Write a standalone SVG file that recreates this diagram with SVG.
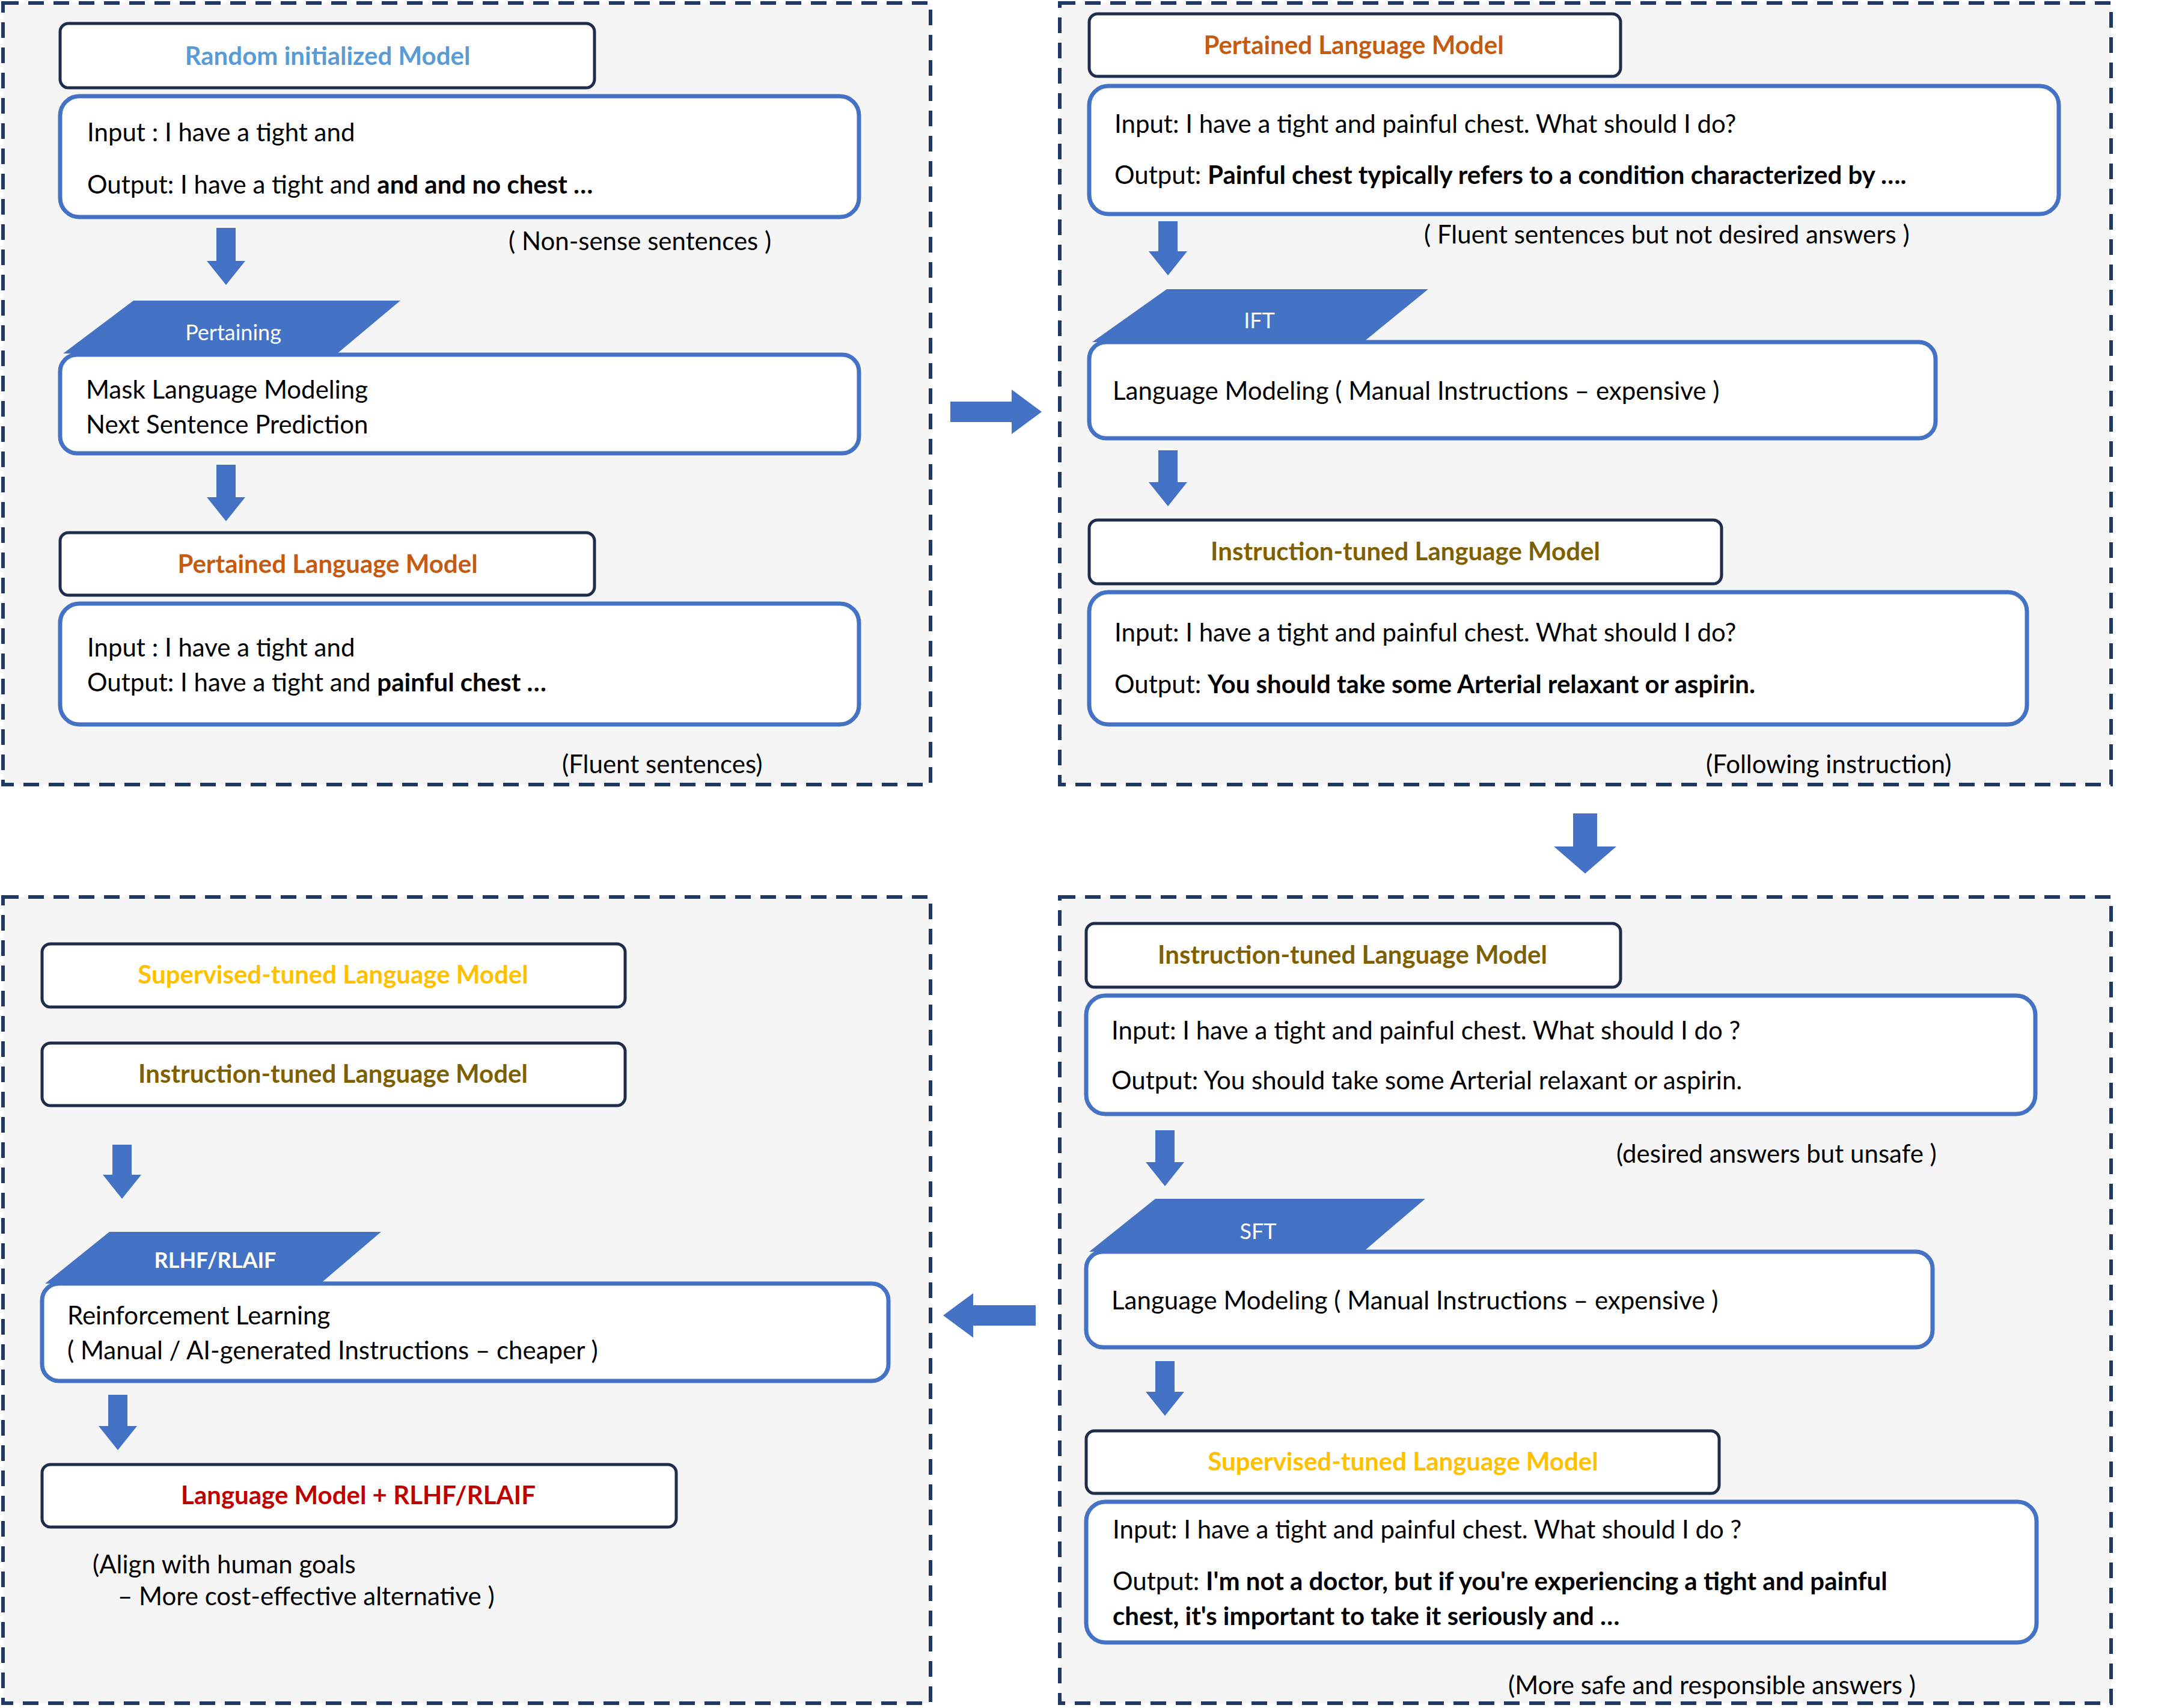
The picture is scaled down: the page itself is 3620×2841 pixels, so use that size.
<svg xmlns="http://www.w3.org/2000/svg" width="3620" height="2841" viewBox="0 0 3620 2841">
<style>
.panel{fill:#f5f5f5;stroke:#203864;stroke-width:6;stroke-dasharray:26 16}
.title{fill:#fff;stroke:#1f2d4d;stroke-width:5}
.io{fill:#fff;stroke:#4472c4;stroke-width:7}
.band{fill:#4472c4}
.arr{fill:#4472c4}
text{font-family:Lato,"Liberation Sans",sans-serif;font-size:42px;fill:#000}
.t{font-weight:bold;text-anchor:middle}
.b{font-weight:bold}
.w{fill:#fff;font-size:36px;text-anchor:middle}
</style>
<rect width="3620" height="2841" fill="#fff"/>
<g id="panels">
<rect class="panel" x="5" y="5" width="1543" height="1300"/>
<rect class="panel" x="1763" y="5" width="1749" height="1300"/>
<rect class="panel" x="5" y="1492" width="1543" height="1341"/>
<rect class="panel" x="1763" y="1492" width="1749" height="1341"/>
</g>
<g id="connectors">
<path class="arr" d="M360 379H392V434H408L376 474L344 434H360Z"/>
<path class="arr" d="M360 773H392V827H408L376 867L344 827H360Z"/>
<path class="arr" d="M1581 668H1683V648L1733 685L1683 722V702H1581Z"/>
<path class="arr" d="M1927 368H1959V418H1975L1943 458L1911 418H1927Z"/>
<path class="arr" d="M1927 749H1959V802H1975L1943 842L1911 802H1927Z"/>
<path class="arr" d="M2617 1353H2657V1408H2689L2637 1453L2585 1408H2617Z"/>
<path class="arr" d="M1922 1880H1954V1933H1970L1938 1973L1906 1933H1922Z"/>
<path class="arr" d="M1922 2264H1954V2315H1970L1938 2355L1906 2315H1922Z"/>
<path class="arr" d="M1723 2171H1619V2151L1569 2188L1619 2225V2205H1723Z"/>
<path class="arr" d="M187 1904H219V1954H235L203 1994L171 1954H187Z"/>
<path class="arr" d="M180 2320H212V2372H228L196 2412L164 2372H180Z"/>
</g>
<g id="tl">
<rect class="title" x="100" y="39" width="889" height="107" rx="14"/>
<text class="t" x="545" y="108" style="fill:#5b9bd5">Random initialized Model</text>
<rect class="io" x="100" y="160" width="1329" height="201" rx="32"/>
<text x="145" y="235">Input :   I have a tight and</text>
<text x="145" y="322">Output: I have a tight and <tspan class="b">and and no chest …</tspan></text>
<text x="846" y="416">( Non-sense sentences )</text>
<path class="band" d="M105 588L222 500H666L561 588Z"/>
<text class="w" x="388" y="566">Pertaining</text>
<rect class="io" x="100" y="590" width="1329" height="164" rx="28"/>
<text x="143" y="663">Mask Language Modeling</text>
<text x="143" y="721">Next Sentence Prediction</text>
<rect class="title" x="100" y="886" width="889" height="104" rx="14"/>
<text class="t" x="545" y="953" style="fill:#c55a11">Pertained Language Model</text>
<rect class="io" x="100" y="1004" width="1329" height="201" rx="32"/>
<text x="145" y="1092">Input :   I have a tight and</text>
<text x="145" y="1150">Output: I have a tight and <tspan class="b">painful chest …</tspan></text>
<text x="935" y="1286">(Fluent sentences)</text>
</g>
<g id="tr">
<rect class="title" x="1812" y="23" width="884" height="104" rx="14"/>
<text class="t" x="2252" y="90" style="fill:#c55a11">Pertained Language Model</text>
<rect class="io" x="1812" y="143" width="1613" height="213" rx="32"/>
<text x="1854" y="221">Input: I have a tight and painful chest. What should I do?</text>
<text x="1854" y="306">Output: <tspan class="b">Painful chest typically refers to a condition characterized by ….</tspan></text>
<text x="2369" y="405">( Fluent sentences but not desired answers )</text>
<path class="band" d="M1817 569L1941 481H2376L2268 569Z"/>
<text class="w" x="2095" y="546">IFT</text>
<rect class="io" x="1812" y="569" width="1408" height="160" rx="28"/>
<text x="1851" y="665">Language Modeling ( Manual Instructions – expensive )</text>
<rect class="title" x="1812" y="865" width="1052" height="106" rx="14"/>
<text class="t" x="2338" y="932" style="fill:#7f6000">Instruction-tuned  Language Model</text>
<rect class="io" x="1812" y="985" width="1560" height="220" rx="32"/>
<text x="1854" y="1067">Input: I have a tight and painful chest. What should I do?</text>
<text x="1854" y="1153">Output: <tspan class="b">You should take some Arterial relaxant or aspirin.</tspan></text>
<text x="2838" y="1286">(Following instruction)</text>
</g>
<g id="br">
<rect class="title" x="1807" y="1536" width="889" height="106" rx="14"/>
<text class="t" x="2250" y="1603" style="fill:#7f6000">Instruction-tuned  Language Model</text>
<rect class="io" x="1807" y="1656" width="1579" height="197" rx="32"/>
<text x="1849" y="1729">Input: I have a tight and painful chest. What should I do ?</text>
<text x="1849" y="1812">Output: You should take some Arterial relaxant or aspirin.</text>
<text x="2689" y="1934">(desired answers but unsafe )</text>
<path class="band" d="M1812 2082L1922 1994H2371L2268 2082Z"/>
<text class="w" x="2093" y="2061">SFT</text>
<rect class="io" x="1807" y="2082" width="1408" height="159" rx="28"/>
<text x="1849" y="2178">Language Modeling ( Manual Instructions – expensive )</text>
<rect class="title" x="1807" y="2380" width="1053" height="104" rx="14"/>
<text class="t" x="2334" y="2446" style="fill:#ffc000">Supervised-tuned  Language Model</text>
<rect class="io" x="1807" y="2498" width="1581" height="234" rx="32"/>
<text x="1851" y="2559">Input: I have a tight and painful chest. What should I do ?</text>
<text x="1851" y="2645">Output: <tspan class="b">I'm not a doctor, but if you're experiencing a tight and painful</tspan></text>
<text x="1851" y="2703" class="b">chest, it's important to take it seriously and …</text>
<text x="2509" y="2818">(More safe and responsible answers )</text>
</g>
<g id="bl">
<rect class="title" x="70" y="1570" width="970" height="105" rx="14"/>
<text class="t" x="554" y="1636" style="fill:#ffc000">Supervised-tuned  Language Model</text>
<rect class="title" x="70" y="1735" width="970" height="104" rx="14"/>
<text class="t" x="554" y="1801" style="fill:#7f6000">Instruction-tuned  Language Model</text>
<path class="band" d="M75 2135L182 2049H634L533 2135Z"/>
<text class="w b" x="358" y="2109" style="font-weight:bold">RLHF/RLAIF</text>
<rect class="io" x="70" y="2135" width="1408" height="162" rx="28"/>
<text x="112" y="2203">Reinforcement Learning</text>
<text x="112" y="2261">( Manual / AI-generated Instructions – cheaper )</text>
<rect class="title" x="70" y="2436" width="1055" height="104" rx="14"/>
<text class="t" x="596" y="2502" style="fill:#c00000">Language Model + RLHF/RLAIF</text>
<text x="154" y="2617">(Align with human goals</text>
<text x="196" y="2670">– More cost-effective alternative )</text>
</g>
</svg>
